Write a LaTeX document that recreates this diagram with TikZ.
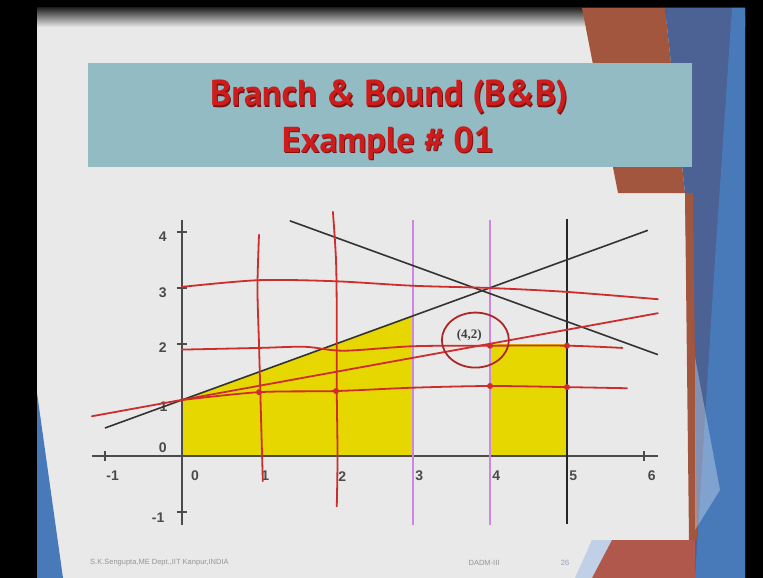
\documentclass[tikz,border=0pt]{standalone}
\usepackage{fontspec}
\setmainfont{Liberation Serif}
\setsansfont{Liberation Sans}
\newfontfamily\titlefont{PT Sans}
\definecolor{slidegray}{RGB}{233,233,233}
\definecolor{titlebox}{RGB}{146,187,195}
\definecolor{titlered}{RGB}{204,28,28}
\definecolor{titleedge}{RGB}{125,20,20}
\definecolor{rustbrown}{RGB}{163,86,62}
\definecolor{pinkbrown}{RGB}{176,88,76}
\definecolor{bandblue}{RGB}{76,98,148}
\definecolor{lightblue}{RGB}{72,122,186}
\definecolor{feasyellow}{RGB}{230,215,0}
\definecolor{penred}{RGB}{205,45,45}
\definecolor{violetline}{RGB}{205,135,225}
\definecolor{axisgray}{RGB}{75,75,75}
\definecolor{footgray}{RGB}{150,150,150}

\begin{document}
\begin{tikzpicture}[x=1pt, y=-1pt,
    pen/.style={penred, line width=1.8pt, line cap=round, line join=round},
    lbl/.style={axisgray, font=\sffamily\bfseries\fontsize{14}{14}\selectfont, inner sep=0pt},
    headline/.style={font=\titlefont\bfseries\fontsize{36}{36}\selectfont, anchor=base, inner sep=0pt},
    foot/.style={footgray, font=\sffamily\fontsize{7.5}{7.5}\selectfont, inner sep=0pt}]
  \useasboundingbox (0,0) rectangle (763,578);
  % frame and slide
  \fill[black] (0,0) rectangle (763,578);
  \fill[slidegray] (37,8) rectangle (745,578);
  \shade[top color=black!85, bottom color=slidegray] (37,8) rectangle (745,27);
  % right hand decoration
  \fill[rustbrown] (582,8) -- (665,8) -- (685,193) -- (618,193) -- cycle;
  \fill[bandblue] (665,8) -- (745,8) -- (745,578) -- (693,578) -- (685,193) -- cycle;
  \fill[lightblue] (732,8) -- (745,8) -- (745,578) -- (695,578) -- (713,290) -- cycle;
  \fill[rustbrown] (685,193) -- (693,193) -- (697,540) -- (689,540) -- cycle;
  \fill[white, opacity=0.3] (695,357) -- (720,490) -- (695,530) -- cycle;
  \fill[lightblue!35!white] (592,540) -- (612,540) -- (592,578) -- (575,578) -- cycle;
  \fill[pinkbrown] (612,540) -- (695,540) -- (695,578) -- (592,578) -- cycle;
  % left hand decoration
  \fill[lightblue] (37,393) -- (63,578) -- (37,578) -- cycle;
  % title
  \fill[titlebox] (88,63) rectangle (692,167);
  \node[headline, titleedge] (titleAs) at (390,107) {Branch \& Bound (B\&B)};
  \node[headline, titlered] (titleA) at (389,106) {Branch \& Bound (B\&B)};
  \node[headline, titleedge] (titleBs) at (389,153) {Example \# 01};
  \node[headline, titlered] (titleB) at (388,152) {Example \# 01};
  % footer
  \node[foot, anchor=west] (credit) at (90,563) {S.K.Sengupta,ME Dept.,IIT Kanpur,INDIA};
  \node[foot] (course) at (484,563) {DADM-III};
  \node[foot, bandblue!60] (pageno) at (565,563) {26};

  \begin{scope}[shift={(182,456)}, x=77pt, y=56pt]
    % feasible pieces
    \fill[feasyellow] (0,0) -- (0,1) -- (3,2.5) -- (3,0) -- cycle;
    \fill[feasyellow] (4,0) rectangle (5,2);
    % axis labels
    \node[lbl] (xm1) at (-0.9,-0.36) {-1};
    \node[lbl] (x0) at (0.17,-0.36) {0};
    \node[lbl] (x1) at (1.08,-0.36) {1};
    \node[lbl] (x2) at (2.08,-0.36) {2};
    \node[lbl] (x3) at (3.08,-0.36) {3};
    \node[lbl] (x4) at (4.08,-0.36) {4};
    \node[lbl] (x5) at (5.08,-0.36) {5};
    \node[lbl] (x6) at (6.1,-0.36) {6};
    \node[lbl] (y4) at (-0.25,3.91) {4};
    \node[lbl] (y3) at (-0.25,2.91) {3};
    \node[lbl] (y2) at (-0.25,1.93) {2};
    \node[lbl] (y1) at (-0.24,0.88) {1};
    \node[lbl] (y0) at (-0.25,0.14) {0};
    \node[lbl] (ym1) at (-0.31,-1.1) {-1};
    % axes
    \draw[axisgray, line width=1.5pt] (-1.17,0) -- (6.18,0);
    \draw[axisgray, line width=1.5pt] (0,-1.23) -- (0,4.21);
    \draw[axisgray, line width=1.2pt] (-1,-0.09) -- (-1,0.09);
    \draw[axisgray, line width=1.2pt] (6,-0.09) -- (6,0.09);
    \draw[axisgray, line width=1.2pt] (-0.07,4) -- (0.07,4);
    \draw[axisgray, line width=1.2pt] (-0.07,3) -- (0.07,3);
    \draw[axisgray, line width=1.2pt] (-0.07,2) -- (0.07,2);
    \draw[axisgray, line width=1.2pt] (-0.07,-1) -- (0.07,-1);
    % branching lines
    \draw[violetline, line width=1.2pt] (3,-1.23) -- (3,4.21);
    \draw[violetline, line width=1.2pt] (4,-1.23) -- (4,4.21);
    \draw[black!85, line width=1.6pt] (5,-1.21) -- (5,4.23);
    % constraints
    \draw[black!80, line width=1.6pt] (-1,0.5) -- (6.05,4.03);
    \draw[black!80, line width=1.6pt] (1.4,4.2) -- (6.18,1.81);
    % hand drawn lines
    \draw[pen] (-1.17,0.71) -- (6.18,2.55); % objective through (4,2)
    \draw[pen] plot[smooth] coordinates {(0,3.02) (1,3.14) (2,3.12) (3,3.04) (4,3.0) (5,2.93) (6.18,2.8)};
    \draw[pen] plot[smooth] coordinates {(0,1.9) (1,1.93) (1.6,1.95) (2.1,1.88) (3,1.96) (4,1.97) (5,1.97) (5.72,1.93)};
    \draw[pen] plot[smooth] coordinates {(0,1.0) (1,1.14) (2,1.16) (3,1.22) (4,1.25) (5,1.23) (5.78,1.21)};
    \draw[pen] plot[smooth] coordinates {(1,3.95) (0.98,3.0) (1,2.0) (1.02,1.0) (1.04,0) (1.05,-0.45)};
    \draw[pen] plot[smooth] coordinates {(1.96,4.36) (2.0,3.5) (2.01,2.5) (2.01,1.16) (2.02,0) (2.01,-0.9)};
    \fill[penred] (1,1.14) circle (3pt);
    \fill[penred] (2,1.16) circle (3pt);
    \fill[penred] (4,1.25) circle (3pt);
    \fill[penred] (5,1.23) circle (3pt);
    \fill[penred] (4,1.97) circle (3pt);
    \fill[penred] (5,1.97) circle (3pt);
    \draw[pen, penred!85!black] (3.81,2.07) ellipse [x radius=33.5pt, y radius=27.5pt];
    \node[black!75, font=\rmfamily\bfseries\fontsize{13}{13}\selectfont, inner sep=0pt] (optpt) at (3.73,2.16) {(4,2)};
  \end{scope}
\end{tikzpicture}
\end{document}
